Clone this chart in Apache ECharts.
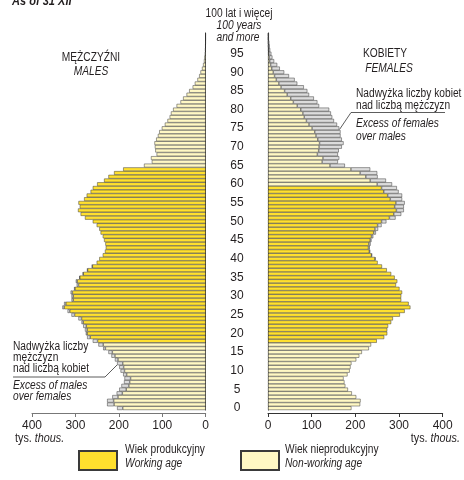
<!DOCTYPE html>
<html><head><meta charset="utf-8">
<script src="https://cdn.jsdelivr.net/npm/echarts@6/dist/echarts.min.js"></script>
<style>html,body{margin:0;padding:0;background:#fff}#c{width:464px;height:480px}</style>
</head><body><div id="c"></div>
<script>
// Age categories 0 .. 100 (100 = 100 years and more)
const ages = Array.from({length: 101}, (_, i) => String(i));
// Thousands of persons
const males = [204,227,227,215,205,199,194,188,187,190,196,199,204,209,217,224,236,247,260,273,276,278,282,286,293,309,318,330,326,309,309,311,303,297,299,291,283,273,262,251,245,237,232,230,231,234,237,242,245,251,260,278,288,294,290,293,280,274,265,260,250,234,224,211,190,142,124,126,113,116,117,118,114,110,107,101,94,88,83,80,75,67,58,52,44,38,30,25,19,15,12,8.5,6,4,3,2,1.5,1,0.7,0.5,0.5];
const females = [191,211,212,202,192,183,177,175,173,182,187,189,191,202,209,215,231,236,249,266,273,273,275,282,286,302,313,326,322,305,305,307,301,293,296,290,282,272,261,251,246,238,234,233,235,237,241,247,252,260,271,292,305,311,311,313,307,307,299,295,284,270,251,250,234,176,160,163,160,162,169,173,169,166,166,163,158,151,147,144,140,117,113,105,94,90,82,67,61,48,37,27,21,14,10,7.6,5,4,3,2,2];
const xTicks = [0, 100, 200, 300, 400];
const maleWorking = [18, 64];
const femaleWorking = [18, 59];

const FONT = "'Liberation Sans',Arial,sans-serif";
const YEL = '#FFE02E', LIGHT = '#FFF8C4', GREY = '#DCDCDC', EDGE = '#3a3a3a', TXT = '#231f20';
const SX = 0.85;

const common = males.map((m, i) => Math.min(m, females[i]));
const isWork = (i, r) => i >= r[0] && i <= r[1];
const mW = common.map((v, i) => isWork(i, maleWorking) ? v : '-');
const mN = common.map((v, i) => isWork(i, maleWorking) ? '-' : v);
const mE = males.map((m, i) => m > females[i] ? +(m - females[i]).toFixed(2) : '-');
const fW = common.map((v, i) => isWork(i, femaleWorking) ? v : '-');
const fN = common.map((v, i) => isWork(i, femaleWorking) ? '-' : v);
const fE = females.map((f, i) => f > males[i] ? +(f - males[i]).toFixed(2) : '-');

const barBase = (name, data, color, axis, stack) => ({
  type: 'bar', name, data, stack, xAxisIndex: axis, yAxisIndex: axis,
  barWidth: '100%', silent: true,
  itemStyle: {color, borderColor: EDGE, borderWidth: 0.5}
});

const xAxisCommon = (idx, inverse, lineColor) => ({
  type: 'value', gridIndex: idx, min: 0, max: 400, interval: 100, inverse,
  offset: 3,
  axisLine: {show: true, lineStyle: {color: lineColor, width: 1}},
  axisTick: {show: true, length: 4, lineStyle: {color: lineColor}},
  axisLabel: {color: TXT, fontSize: 12, fontFamily: FONT, margin: 7,
    formatter: v => xTicks.includes(v) ? String(v) : ''},
  splitLine: {show: false}
});

const T = (x, y, text, o, sx) => ({type: 'text', x, y, scaleX: sx || SX, silent: true,
  style: Object.assign({text, fill: TXT, fontSize: 12, fontFamily: FONT, align: 'left', verticalAlign: 'middle'}, o || {})});
const I = (x, y, text, o, sx) => T(x, y, text, Object.assign({fontStyle: 'italic'}, o || {}), sx);
const L = pts => ({type: 'polyline', silent: true, shape: {points: pts}, style: {stroke: '#333', lineWidth: 0.8, fill: null}});
const RICH = {a: {fontSize: 12, fontFamily: FONT, fill: TXT}, b: {fontSize: 12, fontFamily: FONT, fontStyle: 'italic', fill: TXT}};

const legendOf = (name, left) => ({data: [name], left, top: 450, padding: 0, itemWidth: 38, itemHeight: 19,
  selectedMode: false, icon: 'rect', formatter: () => '', textStyle: {fontSize: 1}});

const chart = echarts.init(document.getElementById('c'), null, {renderer: 'canvas'});
chart.setOption({
  animation: false,
  backgroundColor: '#fff',
  grid: [
    {left: 32, right: 258.3, top: 33, bottom: 70},
    {left: 268, right: 21.3, top: 33, bottom: 70}
  ],
  xAxis: [xAxisCommon(0, true, '#777'), xAxisCommon(1, false, '#333')],
  yAxis: [
    {type: 'category', gridIndex: 0, data: ages, position: 'right',
      axisLine: {show: true, lineStyle: {color: '#222', width: 1}},
      axisTick: {show: false}, axisLabel: {show: false}},
    {type: 'category', gridIndex: 1, data: ages, position: 'left',
      axisLine: {show: true, lineStyle: {color: '#222', width: 1}},
      axisTick: {show: false},
      axisLabel: {show: true, interval: (i) => i % 5 === 0 && i < 100,
        align: 'center', margin: 31, color: TXT, fontSize: 12, fontFamily: FONT}}
  ],
  legend: [legendOf('Wiek produkcyjny', 78), legendOf('Wiek nieprodukcyjny', 240)],
  series: [
    barBase('Wiek produkcyjny', mW, YEL, 0, 'm'),
    barBase('Wiek nieprodukcyjny', mN, LIGHT, 0, 'm'),
    barBase('Nadwyżka', mE, GREY, 0, 'm'),
    barBase('Wiek produkcyjny', fW, YEL, 1, 'f'),
    barBase('Wiek nieprodukcyjny', fN, LIGHT, 1, 'f'),
    barBase('Nadwyżka', fE, GREY, 1, 'f')
  ],
  graphic: [
    T(12, 1, 'As of 31 XII', {fontWeight: 'bold', fontStyle: 'italic', fontSize: 13}),
    T(239, 14, '100 lat i więcej', {align: 'center'}),
    I(239, 26, '100 years', {align: 'center'}),
    I(238, 38, 'and more', {align: 'center'}),
    T(91, 58, 'MĘŻCZYŹNI', {align: 'center'}),
    I(91, 72, 'MALES', {align: 'center'}),
    T(385, 54, 'KOBIETY', {align: 'center'}),
    I(389, 69, 'FEMALES', {align: 'center'}),
    T(356, 94, 'Nadwyżka liczby kobiet'),
    T(356, 106, 'nad liczbą mężczyzn'),
    L([[445, 112.5], [351, 112.5], [339.5, 129.5]]),
    I(356, 124, 'Excess of females'),
    I(356, 137, 'over males'),
    T(13, 347, 'Nadwyżka liczby'),
    T(13, 358, 'mężczyzn'),
    T(13, 369, 'nad liczbą kobiet'),
    L([[13, 377], [105, 377], [117, 365]]),
    I(13, 385.5, 'Excess of males'),
    I(13, 396.5, 'over females'),
    T(15, 439, '{a|tys.} {b|thous.}', {rich: RICH}, 0.9),
    T(460, 439, '{a|tys.} {b|thous.}', {align: 'right', rich: RICH}, 0.9),
    T(125, 450, 'Wiek produkcyjny'),
    I(125, 464, 'Working age'),
    T(285, 450, 'Wiek nieprodukcyjny'),
    I(285, 464, 'Non-working age')
  ]
});
</script>
</body></html>
